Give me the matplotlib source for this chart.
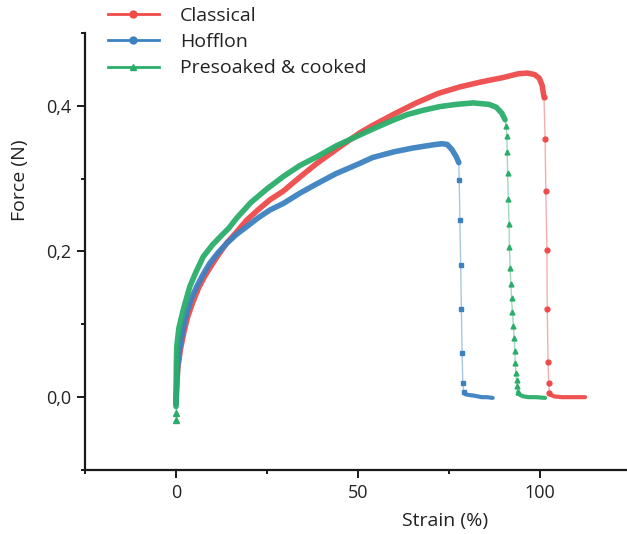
import matplotlib
matplotlib.use("Agg")
import matplotlib.pyplot as plt
from matplotlib.lines import Line2D
from matplotlib.ticker import FixedLocator, FuncFormatter

plt.rcParams['font.family'] = ['Open Sans', 'DejaVu Sans']

# =========================
# DATA (strain in %, force in N)
# =========================
labels = ["Classical", "Hofflon", "Presoaked & cooked"]

# Classical
cls_x = [0, 0.2, 0.5, 1.2, 2.2, 3.2, 4.6, 6.2, 8, 10, 12, 14, 16.5, 19.4, 22.5, 25.8,
         29.5, 34, 38.7, 44, 50.5, 54, 60, 66, 72, 78, 84, 90, 94, 96.5, 98.5, 99.8,
         100.6, 101.0]
cls_y = [-0.008, 0.015, 0.04, 0.065, 0.09, 0.11, 0.13, 0.15, 0.167, 0.183, 0.198,
         0.212, 0.226, 0.243, 0.257, 0.271, 0.283, 0.302, 0.321, 0.340, 0.363, 0.373,
         0.389, 0.404, 0.417, 0.426, 0.433, 0.439, 0.444, 0.445, 0.443, 0.438, 0.428,
         0.415]
cls_drop_x = [101.1, 101.4, 101.6, 101.9, 102.0, 102.2, 102.4, 102.6]
cls_drop_y = [0.412, 0.355, 0.283, 0.202, 0.121, 0.048, 0.019, 0.006]
cls_tail_x = [102.6, 103, 104, 106, 109, 112.4]
cls_tail_y = [0.006, 0.003, 0.001, 0.0, 0.0, 0.0]

# Hofflon
hof_x = [0, 0.2, 0.5, 1.1, 2.0, 2.9, 4.2, 5.7, 7.5, 9.3, 11.5, 13.9, 16.5, 19.4, 22.5,
         25.8, 29.5, 34, 38.7, 44, 50.5, 54, 60, 65, 70, 73, 74.5, 75.8, 77, 77.7]
hof_y = [-0.01, 0.02, 0.045, 0.07, 0.095, 0.115, 0.135, 0.152, 0.169, 0.184, 0.198,
         0.211, 0.223, 0.234, 0.246, 0.257, 0.266, 0.280, 0.293, 0.307, 0.321, 0.329,
         0.337, 0.342, 0.346, 0.348, 0.347, 0.34, 0.33, 0.322]
hof_drop_x = [77.8, 78.0, 78.2, 78.4, 78.6, 78.8, 79.1]
hof_drop_y = [0.298, 0.243, 0.182, 0.121, 0.060, 0.019, 0.007]
hof_tail_x = [79.1, 79.5, 80.5, 82, 84, 85.5, 87]
hof_tail_y = [0.007, 0.004, 0.003, 0.002, 0.0, 0.0, -0.001]

# Presoaked & cooked
pre_start_x = [0, 0, 0]
pre_start_y = [-0.031, -0.022, -0.013]
pre_x = [0, 0.05, 0.1, 0.2, 0.8, 2.0, 3.8, 5.5, 7.5, 10, 12.1, 14.5, 16.7, 20.5, 25,
         29.5, 34, 38.7, 44, 50.5, 54, 59, 63.5, 68, 72.5, 77, 81.6, 86, 88, 89.5, 90.4]
pre_y = [-0.013, 0.02, 0.045, 0.069, 0.095, 0.12, 0.152, 0.172, 0.193, 0.209, 0.22,
         0.232, 0.246, 0.267, 0.286, 0.303, 0.318, 0.33, 0.345, 0.36, 0.368, 0.379,
         0.388, 0.394, 0.399, 0.402, 0.404, 0.402, 0.398, 0.39, 0.381]
pre_drop_x = [90.7, 90.9, 91.0, 91.1, 91.3, 91.5, 91.6, 91.8, 92.0, 92.2, 92.4, 92.7,
              92.9, 93.1, 93.2, 93.4, 93.6, 93.8, 94.0]
pre_drop_y = [0.372, 0.358, 0.337, 0.308, 0.272, 0.238, 0.206, 0.177, 0.155, 0.136,
              0.117, 0.098, 0.081, 0.063, 0.047, 0.033, 0.023, 0.015, 0.007]
pre_tail_x = [94.0, 94.5, 95.5, 97, 99, 101.4]
pre_tail_y = [0.007, 0.003, 0.001, 0.0, 0.0, -0.001]

colors = ["#EF4B4B", "#3C82C0", "#2AAD6A"]
markers = ["o", "s", "^"]

# =========================
# PLOT
# =========================
fig = plt.figure(figsize=(6.27, 5.34), dpi=100)
ax = fig.add_axes([85 / 627, 64 / 534, 546 / 627, 437 / 534])

series = [
    (cls_x, cls_y, cls_drop_x, cls_drop_y, cls_tail_x, cls_tail_y),
    (hof_x, hof_y, hof_drop_x, hof_drop_y, hof_tail_x, hof_tail_y),
    (pre_x, pre_y, pre_drop_x, pre_drop_y, pre_tail_x, pre_tail_y),
]

for (x, y, dx, dy, tx, ty), c, m in zip(series, colors, markers):
    # failure drop: thin faded line with sparse markers
    ax.plot([x[-1]] + dx + [tx[0]], [y[-1]] + dy + [ty[0]], color=c, lw=1, alpha=0.45)
    ax.plot(dx, dy, ls="none", marker=m, ms=3.5, color=c, mec=c)
    # dense parts
    ax.plot(x, y, color=c, lw=4, solid_capstyle="round", alpha=0.95)
    ax.plot(tx, ty, color=c, lw=3, solid_capstyle="round", alpha=0.95)

c = colors[2]
ax.plot(pre_start_x, pre_start_y, color=c, lw=1, alpha=0.6)
ax.plot(pre_start_x[:2], pre_start_y[:2], ls="none", marker="^", ms=4, color=c)

ax.set_xlim(-25, 125)
ax.set_ylim(-0.1, 0.5)

ax.xaxis.set_major_locator(FixedLocator([0, 50, 100]))
ax.xaxis.set_minor_locator(FixedLocator([-25, 25, 75, 125]))
ax.yaxis.set_major_locator(FixedLocator([0.0, 0.2, 0.4]))
ax.yaxis.set_minor_locator(FixedLocator([-0.1, 0.1, 0.3, 0.5]))
ax.yaxis.set_major_formatter(FuncFormatter(lambda v, p: f"{v:.1f}".replace(".", ",")))

for s in ["top", "right"]:
    ax.spines[s].set_visible(False)
for s in ["left", "bottom"]:
    ax.spines[s].set_linewidth(1.6)
    ax.spines[s].set_color("#1a1a1a")

ax.tick_params(which="major", length=6, width=1.4, labelsize=13, color="#1a1a1a",
               labelcolor="#222222", pad=4)
ax.tick_params(which="minor", length=3, width=1.4, color="#1a1a1a")

ax.set_xlabel("Strain (%)", fontsize=14, color="#222222")
ax.set_ylabel("Force (N)", fontsize=14, color="#222222")
ax.xaxis.set_label_coords(0.659, -0.097)
ax.yaxis.set_label_coords(-0.102, 0.664)

handles = [Line2D([], [], color=c, lw=2, marker=m, ms=5) for c, m in zip(colors, ["o", "o", "^"])]
fig.legend(handles, labels, loc="upper left", bbox_to_anchor=(108 / 627, 1 - 7 / 534),
           frameon=False, fontsize=14, handlelength=2.6, handletextpad=1.1,
           labelspacing=0.42, borderpad=0, borderaxespad=0, labelcolor="#222222")

fig.savefig("out.png", dpi=100)
